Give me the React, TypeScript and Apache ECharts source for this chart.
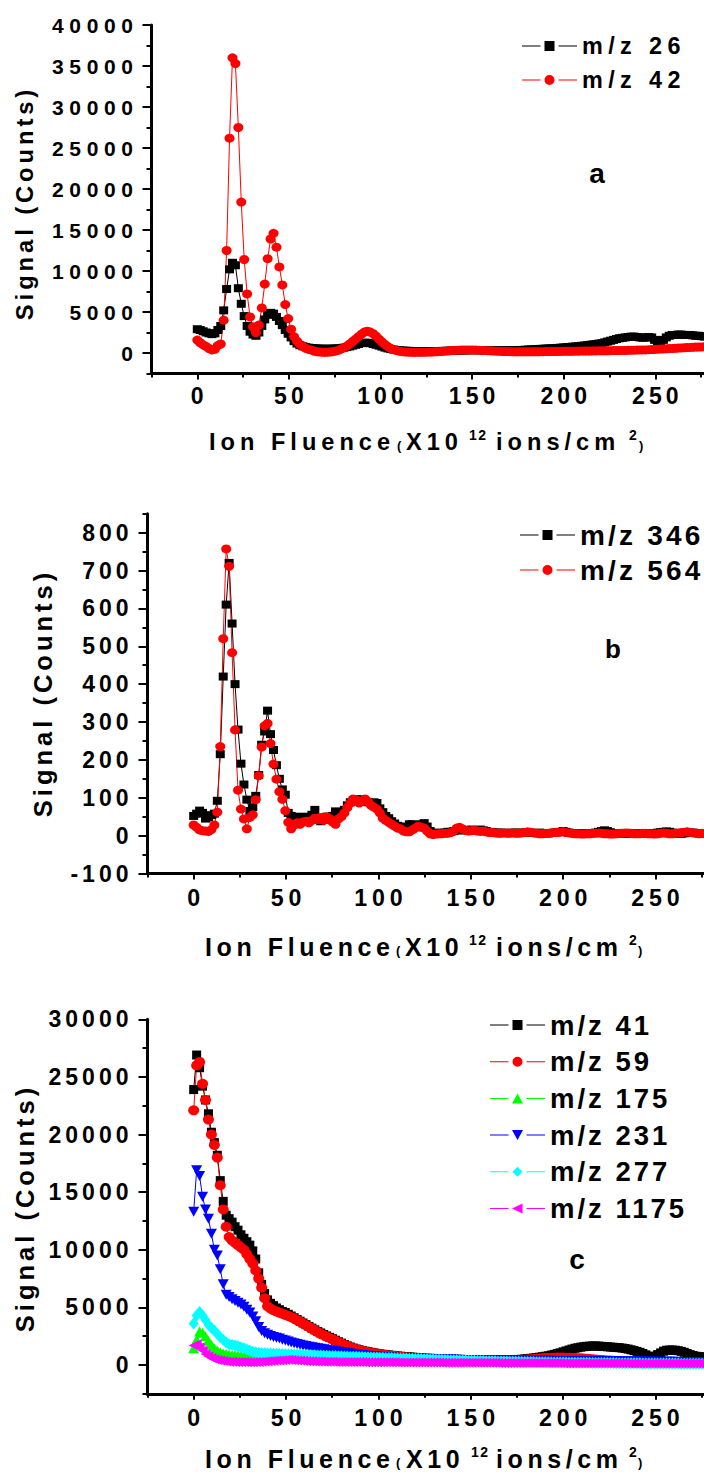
import React, { useEffect, useRef } from "react";
import * as echarts from "echarts";

const FONT = "Liberation Sans, Arial, Helvetica, sans-serif";
// Fluence increment between successive acquisitions (x10^12 ions/cm^2)
const FLUENCE_STEP = 1.6;

const X_MAJOR = [0, 50, 100, 150, 200, 250];
const X_MINOR = [-25, 25, 75, 125, 175, 225, 275];

// ---------- panel a ----------
const A_Y_MAJOR = [0, 5000, 10000, 15000, 20000, 25000, 30000, 35000, 40000];
const A_Y_MINOR = [-2500, 2500, 7500, 12500, 17500, 22500, 27500, 32500, 37500];
const mz26 = [
  2900, 2800, 2650, 2500, 2400, 2300, 2400, 2800, 3300, 5200,
  7800, 10200, 11000, 10700, 7900, 6000, 4500, 3300, 2600, 2250,
  2100, 2500, 3300, 4100, 4650, 4900, 4800, 4400, 3900, 3400,
  2800, 2350, 1900, 1450, 1150, 950, 820, 720, 650, 600,
  570, 550, 530, 520, 520, 520, 530, 550, 570, 600,
  650, 720, 800, 900, 1000, 1100, 1200, 1250, 1250, 1200,
  1100, 1000, 900, 780, 660, 560, 480, 420, 370, 330,
  300, 280, 260, 250, 240, 230, 230, 230, 230, 230,
  230, 240, 240, 250, 260, 270, 280, 290, 300, 300,
  310, 320, 330, 340, 340, 340, 340, 330, 330, 320,
  320, 320, 320, 320, 320, 330, 330, 340, 340, 350,
  360, 380, 400, 420, 440, 460, 480, 500, 520, 540,
  560, 580, 600, 620, 650, 680, 710, 740, 770, 800,
  830, 870, 910, 950, 1000, 1050, 1100, 1150, 1200, 1300,
  1400, 1500, 1600, 1700, 1800, 1850, 1900, 1950, 2000, 2000,
  1950, 1900, 1850, 1900, 1950, 1900, 1600, 1400, 1400, 1600,
  1900, 2100, 2200, 2200, 2250, 2250, 2200, 2200, 2200, 2150,
  2100, 2100, 2050, 2000,
];
const mz42 = [
  1580, 1250, 1000, 800, 550, 380, 450, 900, 1100, 4000,
  12500, 26200, 36000, 35300, 27500, 18400, 11400, 7200, 4400, 3200,
  2500, 3400, 5500, 8400, 11500, 13900, 14600, 12900, 10500, 8300,
  5900, 4200, 2900, 2000, 1450, 1050, 780, 580, 440, 340,
  200, 150, 110, 90, 90, 110, 150, 220, 320, 460,
  650, 850, 1100, 1400, 1700, 2000, 2300, 2550, 2650, 2550,
  2350, 2050, 1700, 1350, 1050, 780, 560, 400, 290, 210,
  160, 120, 100, 90, 80, 80, 80, 90, 100, 110,
  120, 140, 160, 180, 210, 240, 270, 300, 320, 340,
  360, 370, 380, 380, 370, 360, 340, 320, 300, 280,
  260, 240, 220, 200, 190, 180, 170, 160, 150, 150,
  140, 140, 140, 140, 150, 150, 150, 160, 160, 170,
  170, 180, 180, 190, 190, 200, 200, 210, 210, 220,
  220, 230, 230, 240, 240, 250, 250, 260, 260, 270,
  270, 280, 290, 300, 300, 310, 320, 330, 340, 350,
  360, 370, 380, 380, 400, 420, 440, 460, 480, 500,
  520, 540, 560, 580, 600, 620, 640, 660, 680, 700,
  720, 730, 740, 750,
];

// ---------- panel b ----------
const B_Y_MAJOR = [-100, 0, 100, 200, 300, 400, 500, 600, 700, 800];
const B_Y_MINOR = [-50, 50, 150, 250, 350, 450, 550, 650, 750, 850];
const mz346 = [
  52, 58, 66, 60, 45, 48, 54, 58, 92, 215,
  420, 610, 720, 560, 400, 280, 190, 135, 95, 65,
  75, 105, 160, 240, 275, 330, 268, 226, 186, 150,
  122, 108, 60, 52, 48, 50, 46, 48, 50, 45,
  55, 68, 42, 38, 42, 50, 46, 52, 64, 50,
  56, 68, 80, 88, 94, 96, 94, 96, 92, 88,
  86, 88, 86, 72, 62, 52, 46, 38, 32, 26,
  22, 20, 24, 30, 30, 26, 24, 30, 33, 24,
  12, 8, 6, 6, 8, 8, 10, 10, 12, 14,
  15, 14, 14, 15, 16, 14, 15, 16, 14, 12,
  10, 9, 8, 8, 7, 8, 7, 7, 8, 8,
  7, 8, 8, 9, 8, 7, 7, 8, 7, 6,
  6, 7, 8, 9, 10, 12, 10, 8, 7, 6,
  6, 6, 5, 6, 6, 7, 8, 10, 12, 14,
  12, 9, 7, 6, 6, 5, 5, 6, 6, 6,
  7, 7, 6, 6, 6, 7, 7, 8, 9, 10,
  11, 10, 8, 6, 5, 5, 6, 7, 8, 8,
  7, 6, 6, 5,
];
const mz564 = [
  28, 22, 15, 13, 12, 11, 16, 28, 62, 235,
  520, 757, 711, 483, 279, 120, 70, 44, 18, 48,
  55, 95, 158, 234, 290, 296, 243, 189, 149, 116,
  96, 66, 35, 18, 28, 34, 30, 36, 38, 34,
  40, 46, 42, 48, 40, 50, 45, 36, 30, 44,
  50, 60, 74, 86, 97, 95, 86, 90, 97, 90,
  80, 75, 70, 60, 46, 40, 35, 30, 25, 20,
  18, 12, 10, 10, 15, 20, 25, 22, 20, 12,
  5, 3, 4, 5, 5, 6, 6, 8, 12, 20,
  22, 18, 14, 12, 13, 14, 12, 11, 12, 10,
  8, 8, 7, 6, 6, 7, 6, 6, 7, 6,
  6, 7, 8, 10, 9, 7, 6, 5, 5, 6,
  6, 7, 8, 8, 9, 10, 8, 7, 6, 5,
  5, 4, 4, 5, 5, 6, 6, 7, 6, 5,
  5, 4, 4, 5, 6, 6, 7, 7, 6, 5,
  5, 5, 6, 6, 5, 5, 4, 5, 6, 7,
  6, 5, 5, 6, 7, 8, 9, 10, 9, 7,
  6, 5, 6, 5,
];

// ---------- panel c ----------
const C_Y_MAJOR = [0, 5000, 10000, 15000, 20000, 25000, 30000];
const C_Y_MINOR = [-2500, 2500, 7500, 12500, 17500, 22500, 27500];
const mz41 = [
  23900, 26900, 25800, 24200, 23000, 21800, 20200, 19300, 18200, 16000,
  14200, 13000, 12700, 12400, 12000, 11700, 11300, 11000, 10700, 10400,
  9900, 9200, 8000, 7000, 6200, 5650, 5350, 5150, 4950, 4800,
  4650, 4550, 4400, 4250, 4100, 3950, 3800, 3650, 3500, 3350,
  3200, 3050, 2900, 2780, 2650, 2520, 2400, 2280, 2150, 2020,
  1900, 1780, 1660, 1560, 1470, 1390, 1320, 1260, 1200, 1150,
  1100, 1050, 1010, 970, 930, 900, 870, 840, 810, 780,
  760, 740, 720, 700, 680, 660, 640, 620, 600, 590,
  580, 570, 560, 550, 540, 530, 520, 510, 500, 490,
  480, 470, 460, 450, 450, 440, 440, 430, 430, 430,
  430, 430, 440, 440, 450, 450, 460, 460, 470, 470,
  480, 500, 520, 550, 580, 610, 640, 680, 720, 760,
  800, 860, 920, 990, 1060, 1140, 1220, 1300, 1380, 1450,
  1500, 1550, 1590, 1620, 1640, 1650, 1650, 1640, 1620, 1600,
  1580, 1560, 1540, 1520, 1500, 1470, 1430, 1380, 1320, 1250,
  1180, 1100, 1000, 880, 760, 720, 760, 900, 1050, 1200,
  1280, 1300, 1300, 1280, 1240, 1180, 1100, 1000, 900, 820,
  760, 720, 700, 700,
];
const mz59 = [
  22100, 26000, 26300, 24400, 23000, 21300, 20000, 19100, 18000, 15600,
  13500, 12000, 11100, 10800, 10600, 10400, 10200, 10000, 9600, 9200,
  8800, 8200, 7500, 6700, 5800, 5100, 4900, 4750, 4650, 4550,
  4450, 4350, 4250, 4150, 4050, 3900, 3750, 3600, 3450, 3300,
  3150, 3000, 2850, 2700, 2580, 2460, 2340, 2220, 2100, 1980,
  1860, 1750, 1640, 1540, 1450, 1370, 1300, 1240, 1180, 1120,
  1070, 1020, 980, 940, 900, 860, 830, 800, 770, 740,
  710, 680, 660, 640, 620, 600, 580, 560, 540, 530,
  520, 510, 500, 490, 480, 470, 460, 450, 440, 430,
  420, 410, 400, 400, 390, 390, 380, 380, 380, 380,
  380, 380, 380, 390, 390, 400, 400, 410, 420, 430,
  440, 450, 460, 480, 500, 520, 540, 560, 580, 600,
  610, 620, 630, 640, 640, 640, 630, 620, 610, 600,
  590, 580, 560, 540, 520, 500, 480, 460, 440, 420,
  400, 380, 360, 350, 340, 330, 320, 310, 300, 300,
  290, 280, 280, 270, 270, 260, 260, 250, 250, 250,
  240, 240, 240, 230, 230, 230, 230, 220, 220, 220,
  220, 210, 210, 210,
];
const mz175 = [
  1450, 2200, 2900, 2800, 2500, 2100, 1750, 1450, 1250, 1100,
  1000, 950, 900, 870, 850, 830, 810, 800, 790, 780,
  770, 760, 750, 740, 735, 730, 720, 715, 710, 700,
  695, 690, 685, 680, 670, 665, 660, 650, 645, 640,
  635, 630, 620, 615, 610, 600, 595, 590, 585, 580,
  575, 570, 560, 555, 550, 545, 540, 535, 530, 525,
  520, 515, 510, 505, 500, 495, 490, 485, 480, 475,
  470, 465, 460, 455, 450, 445, 440, 435, 430, 425,
  420, 415, 410, 405, 400, 400, 395, 390, 385, 380,
  380, 375, 370, 370, 365, 360, 360, 355, 350, 350,
  345, 345, 340, 340, 335, 335, 330, 330, 325, 325,
  320, 320, 320, 315, 315, 315, 310, 310, 310, 305,
  305, 305, 300, 300, 300, 300, 295, 295, 295, 295,
  290, 290, 290, 290, 285, 285, 285, 285, 280, 280,
  280, 280, 275, 275, 275, 275, 270, 270, 270, 270,
  265, 265, 265, 265, 260, 260, 260, 260, 255, 255,
  255, 255, 250, 250, 250, 250, 245, 245, 245, 245,
  240, 240, 240, 240,
];
const mz231 = [
  13300, 16900, 16400, 14600, 13500, 12700, 11400, 10000, 9500, 8300,
  7000, 6100, 5900, 5700, 5550, 5400, 5250, 5050, 4800, 4550,
  4200, 3800, 3300, 2950, 2750, 2620, 2520, 2440, 2370, 2300,
  2200, 2120, 2040, 1960, 1890, 1820, 1760, 1700, 1640, 1590,
  1540, 1490, 1450, 1400, 1360, 1320, 1280, 1240, 1200, 1160,
  1120, 1080, 1040, 1000, 960, 920, 890, 860, 830, 800,
  780, 760, 740, 720, 700, 680, 660, 640, 620, 600,
  590, 580, 570, 560, 550, 540, 530, 520, 510, 500,
  495, 490, 485, 480, 475, 470, 465, 460, 455, 450,
  445, 440, 435, 430, 425, 420, 420, 415, 410, 410,
  405, 400, 400, 395, 395, 390, 390, 385, 385, 380,
  380, 380, 375, 375, 370, 370, 370, 365, 365, 360,
  360, 360, 355, 355, 350, 350, 350, 345, 345, 340,
  340, 340, 335, 335, 330, 330, 330, 325, 325, 320,
  320, 320, 315, 315, 310, 310, 310, 305, 305, 300,
  300, 300, 295, 295, 290, 290, 290, 285, 285, 280,
  280, 280, 275, 275, 270, 270, 270, 265, 265, 260,
  260, 260, 255, 255,
];
const mz277 = [
  3600, 4300, 4600, 4300, 3900, 3500, 3200, 3000, 2700, 2400,
  2200, 1950, 1800, 1750, 1700, 1650, 1550, 1450, 1350, 1250,
  1150, 1100, 1060, 1030, 1010, 1000, 990, 980, 970, 960,
  950, 940, 930, 915, 900, 890, 880, 870, 860, 850,
  840, 835, 825, 815, 805, 795, 790, 780, 770, 760,
  750, 745, 735, 725, 715, 705, 700, 690, 680, 670,
  660, 655, 645, 635, 625, 615, 610, 600, 590, 580,
  570, 565, 555, 545, 535, 525, 520, 510, 500, 490,
  480, 475, 465, 455, 445, 440, 430, 420, 415, 405,
  400, 390, 385, 375, 370, 360, 355, 350, 340, 335,
  330, 320, 315, 310, 305, 300, 295, 290, 285, 280,
  275, 270, 265, 260, 255, 250, 245, 240, 240, 235,
  230, 225, 220, 220, 215, 210, 210, 205, 200, 200,
  195, 190, 190, 185, 185, 180, 180, 175, 175, 170,
  170, 165, 165, 160, 160, 155, 155, 150, 150, 150,
  145, 145, 140, 140, 140, 135, 135, 130, 130, 130,
  125, 125, 120, 120, 120, 115, 115, 110, 110, 110,
  105, 105, 100, 100,
];
const mz1175 = [
  1700, 1800, 1550, 1250, 950, 750, 600, 500, 430, 380,
  340, 310, 290, 280, 270, 260, 250, 250, 240, 240,
  240, 250, 260, 280, 300, 320, 340, 360, 380, 400,
  420, 440, 450, 440, 420, 400, 380, 360, 340, 330,
  320, 310, 300, 300, 290, 290, 280, 280, 270, 270,
  270, 260, 260, 260, 250, 250, 250, 250, 240, 240,
  240, 240, 240, 230, 230, 230, 230, 230, 230, 220,
  220, 220, 220, 220, 220, 220, 210, 210, 210, 210,
  210, 210, 210, 210, 200, 200, 200, 200, 200, 200,
  200, 200, 200, 200, 190, 190, 190, 190, 190, 190,
  190, 190, 190, 180, 180, 180, 180, 180, 180, 180,
  180, 180, 180, 180, 170, 170, 170, 170, 170, 170,
  170, 170, 170, 170, 170, 160, 160, 160, 160, 160,
  160, 160, 160, 160, 160, 160, 150, 150, 150, 150,
  150, 150, 150, 150, 150, 150, 150, 140, 140, 140,
  140, 140, 140, 140, 140, 140, 140, 140, 130, 130,
  130, 130, 130, 130, 130, 130, 130, 130, 130, 130,
  120, 120, 120, 120,
];

const toPairs = (ys: number[]) =>
  ys.map((y, i) => [Math.round(i * FLUENCE_STEP * 10) / 10, y]);

const DOWN_TRIANGLE = "path://M0,0L10,0L5,9Z";
const LEFT_TRIANGLE = "path://M10,0L10,10L0,5Z";

// Legend keys: short line, gap, marker, gap, short line (55 x 10 box)
const KEY_LINES = "M0,4.5H18.5V5.5H0Z M36.5,4.5H55V5.5H36.5Z ";
const KEY_MARKERS: Record<string, string> = {
  rect: "M22.5,0H32.5V10H22.5Z",
  circle: "M22.5,5a5,5 0 1,0 10,0a5,5 0 1,0 -10,0Z",
  triangle: "M22,10L27.5,0L33,10Z",
  down: "M22,0L33,0L27.5,10Z",
  diamond: "M27.5,0L32.5,5L27.5,10L22.5,5Z",
  left: "M32.5,0L32.5,10L22,5Z",
};
const legendKey = (marker: string) => "path://" + KEY_LINES + KEY_MARKERS[marker];

type SeriesDef = {
  name: string;
  values: number[];
  color: string;
  symbol: string;
  key: string;
  size: number | number[];
};

type TitlePlace = {
  size: number;
  y: number; // vertical centre of the main glyphs
  x: number[]; // left edge of: "Ion Fluence", "(", "X10", "12", "ions/cm", "2", ")"
};

type PanelDef = {
  grid: { left: number; top: number; width: number; height: number };
  yMin: number;
  yMax: number;
  yMajor: number[];
  yMinor: number[];
  yLabel: { size: number; margin: number };
  xLabel: { size: number; margin: number; shift: number };
  yTitle: { size: number; x: number; y: number };
  xTitle: TitlePlace;
  legend: { left: number; top: number; size: number; lineHeight: number; gap: number };
  letter: { text: string; x: number; y: number; size: number };
  series: SeriesDef[];
};

const SUP_SIZE = 14;
const SUP_SPACING = 1.5;
const PAREN_SIZE = 13;

function textEl(
  text: string,
  x: number,
  y: number,
  size: number,
  align: string,
  rotation = 0
) {
  return {
    type: "text",
    x,
    y,
    rotation,
    silent: true,
    style: {
      text,
      fontFamily: FONT,
      fontWeight: "bold",
      fontSize: size,
      fill: "#000",
      align,
      verticalAlign: "middle",
    },
  };
}

function xTitleEls(t: TitlePlace) {
  const [xIon, xOpen, xX10, xSup1, xIons, xSup2, xClose] = t.x;
  const supY = t.y - 7;
  const parenY = t.y + 3.5;
  return [
    textEl("Ion Fluence", xIon, t.y, t.size, "left"),
    textEl("(", xOpen, parenY, PAREN_SIZE, "left"),
    textEl("X10", xX10, t.y, t.size, "left"),
    textEl("12", xSup1, supY, SUP_SIZE, "left"),
    textEl("ions/cm", xIons, t.y, t.size, "left"),
    textEl("2", xSup2, supY, SUP_SIZE, "left"),
    textEl(")", xClose, parenY, PAREN_SIZE, "left"),
  ];
}

function buildOption(p: PanelDef) {
  const txt = { fontFamily: FONT, fontWeight: "bold" as const, color: "#000" };
  const axisLine = { show: true, onZero: false, lineStyle: { color: "#000", width: 3 } };
  const tickStyle = { color: "#000", width: 2 };
  const plain = (v: number) => String(v);
  return {
    animation: false,
    backgroundColor: "#fff",
    grid: {
      ...p.grid,
      containLabel: false,
      outerBoundsMode: "none",
    },
    xAxis: [
      {
        type: "value",
        min: -25,
        max: 277,
        position: "bottom",
        axisLine,
        axisTick: { show: true, length: 6, lineStyle: tickStyle, customValues: X_MAJOR },
        axisLabel: {
          ...txt,
          fontSize: p.xLabel.size,
          margin: p.xLabel.margin,
          padding: [0, 0, 0, p.xLabel.shift],
          customValues: X_MAJOR,
          formatter: plain,
        },
        splitLine: { show: false },
      },
      {
        type: "value",
        min: -25,
        max: 277,
        position: "bottom",
        axisLine: { show: false, onZero: false },
        axisTick: { show: true, length: 4, lineStyle: tickStyle, customValues: X_MINOR },
        axisLabel: { show: false },
        splitLine: { show: false },
      },
    ],
    yAxis: [
      {
        type: "value",
        min: p.yMin,
        max: p.yMax,
        position: "left",
        axisLine,
        axisTick: { show: true, length: 9, lineStyle: tickStyle, customValues: p.yMajor },
        axisLabel: {
          ...txt,
          fontSize: p.yLabel.size,
          margin: p.yLabel.margin,
          customValues: p.yMajor,
          formatter: plain,
        },
        splitLine: { show: false },
      },
      {
        type: "value",
        min: p.yMin,
        max: p.yMax,
        position: "left",
        axisLine: { show: false, onZero: false },
        axisTick: { show: true, length: 5, lineStyle: tickStyle, customValues: p.yMinor },
        axisLabel: { show: false },
        splitLine: { show: false },
      },
    ],
    legend: {
      orient: "vertical",
      left: p.legend.left,
      top: p.legend.top,
      itemWidth: 55,
      itemHeight: 10,
      itemGap: p.legend.gap,
      selectedMode: false,
      textStyle: { ...txt, fontSize: p.legend.size, lineHeight: p.legend.lineHeight },
      data: p.series.map((s) => ({ name: s.name, icon: legendKey(s.key) })),
    },
    graphic: [
      textEl(p.letter.text, p.letter.x, p.letter.y, p.letter.size, "center"),
      textEl("Signal (Counts)", p.yTitle.x, p.yTitle.y, p.yTitle.size, "center", Math.PI / 2),
      ...xTitleEls(p.xTitle),
    ],
    series: p.series.map((s) => ({
      name: s.name,
      type: "line",
      xAxisIndex: 0,
      yAxisIndex: 0,
      data: toPairs(s.values),
      symbol: s.symbol,
      symbolSize: s.size,
      showAllSymbol: true,
      itemStyle: { color: s.color, borderWidth: 0 },
      lineStyle: { color: s.color, width: 1 },
      emphasis: { disabled: true },
      clip: true,
    })),
  };
}

const panelA: PanelDef = {
  grid: { left: 151.5, top: 25, width: 553.3, height: 348.5 },
  yMin: -2500,
  yMax: 40000,
  yMajor: A_Y_MAJOR,
  yMinor: A_Y_MINOR,
  yLabel: { size: 21, margin: 13 },
  xLabel: { size: 23, margin: 11, shift: 4 },
  yTitle: { size: 23.8, x: 24.5, y: 203 },
  xTitle: { size: 23.6, y: 441.5, x: [209, 397, 406, 469, 496, 629, 639] },
  legend: { left: 517, top: 29, size: 23.4, lineHeight: 24, gap: 10 },
  letter: { text: "a", x: 597, y: 173, size: 28 },
  series: [
    { name: "m/z 26", values: mz26, color: "#000000", symbol: "rect", key: "rect", size: [9, 8] },
    { name: "m/z 42", values: mz42, color: "#ff0000", symbol: "circle", key: "circle", size: [10, 9] },
  ],
};

const panelB: PanelDef = {
  grid: { left: 147.5, top: 33.7, width: 557.8, height: 359.8 },
  yMin: -100,
  yMax: 850,
  yMajor: B_Y_MAJOR,
  yMinor: B_Y_MINOR,
  yLabel: { size: 23, margin: 15 },
  xLabel: { size: 23.2, margin: 13, shift: 5 },
  yTitle: { size: 25.5, x: 43, y: 213 },
  xTitle: { size: 25, y: 467, x: [205, 396, 405, 469, 496, 629, 638] },
  legend: { left: 515, top: 36, size: 28, lineHeight: 28, gap: 7 },
  letter: { text: "b", x: 613, y: 169, size: 26 },
  series: [
    { name: "m/z 346", values: mz346, color: "#000000", symbol: "rect", key: "rect", size: [9, 8] },
    { name: "m/z 564", values: mz564, color: "#ff0000", symbol: "circle", key: "circle", size: [10, 9] },
  ],
};

const panelC: PanelDef = {
  grid: { left: 147.5, top: 39.3, width: 557.8, height: 374.5 },
  yMin: -2500,
  yMax: 30000,
  yMajor: C_Y_MAJOR,
  yMinor: C_Y_MINOR,
  yLabel: { size: 23, margin: 15 },
  xLabel: { size: 23.2, margin: 13, shift: 5 },
  yTitle: { size: 25.5, x: 25, y: 228 },
  xTitle: { size: 25, y: 478.8, x: [205, 396, 406, 471, 496, 629, 638] },
  legend: { left: 485, top: 26, size: 27.5, lineHeight: 28, gap: 8.7 },
  letter: { text: "c", x: 577, y: 279, size: 28 },
  series: [
    { name: "m/z 41", values: mz41, color: "#000000", symbol: "rect", key: "rect", size: [9, 9] },
    { name: "m/z 59", values: mz59, color: "#ff0000", symbol: "circle", key: "circle", size: [11, 10] },
    { name: "m/z 175", values: mz175, color: "#00ff00", symbol: "triangle", key: "triangle", size: [11, 10] },
    { name: "m/z 231", values: mz231, color: "#0000ff", symbol: DOWN_TRIANGLE, key: "down", size: [11, 10] },
    { name: "m/z 277", values: mz277, color: "#00ffff", symbol: "diamond", key: "diamond", size: [10, 12] },
    { name: "m/z 1175", values: mz1175, color: "#ff00ff", symbol: LEFT_TRIANGLE, key: "left", size: [10, 10] },
  ],
};

// Letter spacing per text size, scoped to each panel container
const spacingRules: [string, [number, number][]][] = [
  ["panel-a", [[21, 5.6], [23, 4.1], [23.4, 5.4], [23.6, 5], [23.8, 3.9], [14, SUP_SPACING]]],
  ["panel-b", [[23, 4], [23.2, 4.9], [28, 3.2], [25, 4.6], [25.5, 4], [14, SUP_SPACING]]],
  ["panel-c", [[23, 4], [23.2, 4.9], [27.5, 3], [25, 4.6], [25.5, 4], [14, SUP_SPACING]]],
];
const CSS = spacingRules
  .map(([cls, rules]) =>
    rules
      .map(([size, sp]) => `.${cls} text[style*="${size}px"]{letter-spacing:${sp}px}`)
      .join("\n")
  )
  .join("\n");

function Panel({ def, cls, top, height }: { def: PanelDef; cls: string; top: number; height: number }) {
  const ref = useRef<HTMLDivElement>(null);
  useEffect(() => {
    if (!ref.current) return;
    const chart = echarts.init(ref.current, null, { renderer: "svg" });
    chart.setOption(buildOption(def) as any);
    return () => chart.dispose();
  }, [def]);
  return (
    <div
      ref={ref}
      className={cls}
      style={{ position: "absolute", left: 0, top, width: 704, height }}
    />
  );
}

export default function App() {
  return (
    <div
      style={{
        position: "absolute",
        left: 0,
        top: 0,
        width: 704,
        height: 1473,
        background: "#fff",
        overflow: "hidden",
      }}
    >
      <style>{CSS}</style>
      <Panel def={panelA} cls="panel-a" top={0} height={480} />
      <Panel def={panelB} cls="panel-b" top={480} height={500} />
      <Panel def={panelC} cls="panel-c" top={980} height={493} />
    </div>
  );
}
